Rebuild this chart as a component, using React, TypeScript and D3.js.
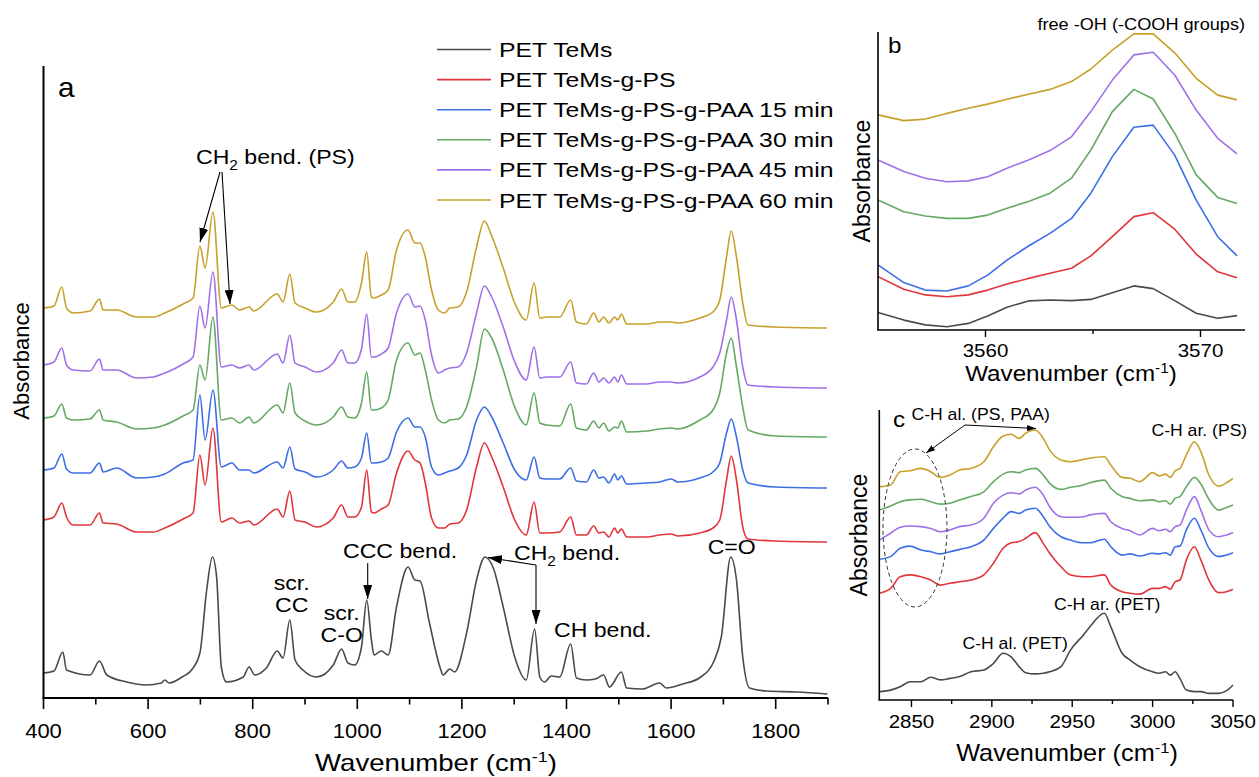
import React from 'react';
import * as d3 from 'd3';

const FONT = '"Liberation Sans", Arial, Helvetica, sans-serif';

// ---------- series ----------
const SERIES_NAMES = [
  'PET TeMs',
  'PET TeMs-g-PS',
  'PET TeMs-g-PS-g-PAA 15 min',
  'PET TeMs-g-PS-g-PAA 30 min',
  'PET TeMs-g-PS-g-PAA 45 min',
  'PET TeMs-g-PS-g-PAA 60 min',
];
const SERIES_COLORS = ['#4a4a4a', '#e0353a', '#3d6ee6', '#64a964', '#a070e8', '#c8a02a'];

// ---------- panel a (400-1900 cm-1), arbitrary absorbance units, stacked ----------
const WN_PET_A = [
  400, 420, 437, 444, 489, 507, 521, 559, 597, 625,
  632, 640, 665, 683, 699, 712, 723, 731, 740, 750,
  782, 793, 804, 826, 847, 858, 871, 881, 896, 922,
  954, 970, 982, 995, 1008, 1018, 1027, 1032, 1046, 1059,
  1075, 1097, 1110, 1120, 1138, 1158, 1164, 1177, 1186, 1209,
  1228, 1244, 1260, 1279, 1301, 1323, 1339, 1349, 1358, 1371,
  1387, 1408, 1419, 1438, 1455, 1471, 1482, 1505, 1515, 1545,
  1578, 1591, 1622, 1654, 1683, 1696, 1714, 1725, 1737, 1750,
  1782, 1840, 1899,
];
const PET_A = [
  25, 27, 46, 28, 23, 37, 23, 16, 13, 15,
  18, 15, 21, 28, 45, 108, 141, 121, 31, 16,
  21, 31, 23, 30, 47, 40, 78, 38, 28, 21,
  33, 49, 35, 33, 51, 98, 58, 43, 47, 43,
  91, 131, 118, 117, 75, 31, 23, 29, 26, 65,
  118, 141, 130, 91, 41, 18, 69, 21, 16, 22,
  21, 54, 20, 18, 19, 23, 11, 26, 10, 9,
  15, 10, 14, 20, 38, 61, 141, 118, 41, 10,
  7, 6, 4,
];

const WN_A = [
  400, 420, 435, 444, 457, 489, 507, 514, 540, 578,
  610, 632, 667, 686, 699, 709, 724, 740, 760, 775,
  793, 802, 847, 858, 871, 881, 900, 922, 954, 970,
  982, 995, 1008, 1018, 1027, 1032, 1046, 1059, 1075, 1097,
  1110, 1120, 1130, 1142, 1155, 1167, 1177, 1193, 1209, 1228,
  1243, 1257, 1279, 1301, 1323, 1338, 1349, 1362, 1387, 1408,
  1419, 1438, 1452, 1462, 1471, 1481, 1492, 1498, 1505, 1515,
  1553, 1578, 1600, 1613, 1655, 1680, 1693, 1706, 1715, 1725,
  1737, 1747, 1800, 1898,
];
const PS_A = [
  178, 181, 195, 181, 173, 173, 185, 175, 174, 166,
  166, 170, 179, 185, 243, 213, 270, 176, 180, 175,
  177, 173, 189, 181, 207, 178, 176, 171, 180, 193,
  181, 181, 191, 228, 186, 185, 189, 193, 225, 247,
  238, 235, 215, 180, 170, 170, 174, 175, 188, 231,
  255, 241, 211, 178, 163, 196, 165, 165, 166, 181,
  163, 163, 172, 165, 166, 161, 170, 165, 169, 161,
  161, 163, 164, 162, 165, 170, 178, 218, 242, 218,
  171, 159, 157, 156,
];
const PAA15_A = [
  228, 230, 244, 229, 225, 225, 235, 226, 230, 220,
  221, 224, 235, 238, 303, 258, 308, 231, 235, 228,
  228, 225, 236, 230, 251, 229, 226, 221, 228, 237,
  230, 231, 240, 265, 235, 235, 236, 240, 266, 280,
  271, 271, 261, 231, 223, 225, 227, 230, 243, 278,
  291, 281, 255, 228, 218, 241, 220, 219, 219, 230,
  217, 216, 228, 220, 221, 215, 224, 218, 222, 214,
  215, 216, 219, 216, 220, 226, 235, 265, 279, 261,
  228, 215, 211, 210,
];
const PAA30_A = [
  280, 282, 294, 280, 278, 279, 288, 278, 276, 269,
  270, 273, 282, 288, 333, 318, 381, 278, 280, 275,
  281, 275, 293, 285, 315, 285, 277, 273, 281, 291,
  281, 280, 295, 326, 288, 288, 290, 298, 338, 355,
  343, 345, 328, 298, 278, 275, 278, 279, 291, 331,
  369, 360, 328, 291, 273, 305, 275, 273, 272, 294,
  270, 268, 277, 270, 275, 267, 271, 270, 277, 266,
  267, 269, 270, 269, 278, 288, 305, 345, 360, 331,
  291, 268, 262, 261,
];
const PAA45_A = [
  333, 336, 350, 333, 328, 327, 339, 328, 328, 320,
  321, 325, 334, 341, 392, 370, 426, 331, 333, 330,
  333, 328, 344, 335, 363, 335, 331, 326, 335, 348,
  335, 335, 349, 384, 341, 341, 344, 350, 385, 404,
  391, 392, 378, 343, 325, 328, 330, 331, 345, 385,
  412, 401, 371, 336, 318, 351, 320, 321, 321, 336,
  315, 314, 325, 316, 320, 315, 321, 316, 323, 314,
  314, 316, 316, 315, 321, 331, 345, 378, 401, 378,
  331, 313, 311, 310,
];
const PAA60_A = [
  390, 392, 411, 390, 385, 387, 399, 388, 388, 381,
  381, 385, 394, 400, 452, 430, 486, 390, 393, 388,
  391, 387, 404, 396, 424, 395, 390, 386, 396, 409,
  396, 396, 415, 446, 401, 400, 403, 408, 448, 468,
  455, 455, 441, 408, 388, 385, 390, 391, 406, 451,
  477, 462, 430, 395, 378, 415, 380, 381, 381, 398,
  376, 374, 385, 376, 381, 375, 381, 378, 384, 374,
  374, 376, 376, 375, 380, 386, 398, 441, 467, 441,
  395, 373, 371, 370,
];
const TICKS_A = [400, 600, 800, 1000, 1200, 1400, 1600, 1800];
const MINOR_A = [500, 700, 900, 1100, 1300, 1500, 1700, 1900];

// ---------- panel b (free -OH region) ----------
const WN_B = [3555.0, 3556.2, 3557.2, 3558.2, 3559.2, 3560.1, 3561.0, 3562.0, 3563.0, 3564.0, 3564.9, 3565.9, 3566.9, 3567.8, 3568.8, 3569.8, 3570.8, 3571.7];
const PET_B = [0.058, 0.033, 0.017, 0.011, 0.022, 0.047, 0.076, 0.097, 0.100, 0.098, 0.102, 0.124, 0.147, 0.138, 0.098, 0.056, 0.039, 0.048];
const PS_B = [0.178, 0.136, 0.117, 0.111, 0.117, 0.133, 0.153, 0.172, 0.189, 0.206, 0.247, 0.311, 0.378, 0.391, 0.336, 0.253, 0.194, 0.174];
const PAA15_B = [0.217, 0.158, 0.133, 0.130, 0.147, 0.183, 0.233, 0.280, 0.322, 0.372, 0.456, 0.578, 0.676, 0.683, 0.583, 0.433, 0.311, 0.247];
const PAA30_B = [0.433, 0.394, 0.380, 0.372, 0.372, 0.383, 0.406, 0.428, 0.456, 0.506, 0.600, 0.728, 0.802, 0.770, 0.656, 0.517, 0.442, 0.422];
const PAA45_B = [0.567, 0.528, 0.506, 0.494, 0.497, 0.511, 0.539, 0.567, 0.598, 0.644, 0.728, 0.833, 0.917, 0.926, 0.850, 0.733, 0.639, 0.587];
const PAA60_B = [0.717, 0.698, 0.703, 0.722, 0.739, 0.753, 0.769, 0.786, 0.802, 0.828, 0.870, 0.933, 0.987, 0.987, 0.924, 0.839, 0.783, 0.767];
const TICKS_B = [3560, 3570];
const MINOR_B = [3565];

// ---------- panel c (C-H stretching region) ----------
const WN_C = [2830, 2837, 2843, 2849, 2856, 2862, 2868, 2874, 2880, 2887, 2895, 2901, 2907, 2912, 2917, 2921, 2927, 2932, 2936, 2943, 2949, 2957, 2961, 2970, 2974, 2981, 2986, 2992, 3000, 3004, 3008, 3011, 3014, 3017, 3021, 3026, 3030, 3035, 3041, 3046, 3050];
const PET_C = [2.8, 3.3, 4.4, 6.1, 6.1, 7.6, 6.7, 7.2, 7.8, 9.4, 10.0, 12.2, 15.6, 14.4, 11.1, 9.1, 8.7, 8.9, 9.4, 11.1, 16.7, 21.7, 24.4, 28.9, 24.4, 15.6, 13.3, 11.1, 9.4, 8.9, 9.4, 8.3, 9.4, 7.2, 3.3, 2.8, 2.8, 2.2, 2.2, 3.1, 5.0];
const PS_C = [35.6, 37.2, 41.1, 41.7, 41.1, 40.0, 38.3, 38.9, 39.4, 40.0, 41.7, 45.6, 50.6, 52.4, 52.8, 53.9, 55.8, 52.2, 48.9, 44.4, 41.7, 41.1, 41.1, 41.7, 38.3, 36.1, 35.6, 35.3, 37.2, 37.2, 37.8, 36.9, 39.4, 40.0, 46.7, 51.1, 46.7, 40.0, 35.8, 36.1, 36.9];
const PAA15_C = [46.9, 47.8, 50.6, 51.3, 50.0, 49.4, 48.7, 49.4, 50.2, 51.1, 53.3, 57.2, 60.6, 62.8, 62.2, 63.3, 63.9, 61.1, 57.8, 54.4, 53.3, 52.4, 52.4, 53.6, 51.1, 48.3, 48.7, 48.0, 48.9, 48.7, 49.1, 48.3, 51.1, 51.3, 56.7, 60.6, 56.7, 50.6, 47.8, 48.3, 49.1];
const PAA30_C = [63.3, 64.7, 66.1, 66.7, 66.9, 66.1, 65.3, 65.6, 66.7, 67.8, 69.4, 72.8, 75.3, 76.1, 75.8, 76.7, 77.2, 75.0, 72.2, 70.2, 70.9, 71.7, 72.4, 73.3, 70.6, 67.8, 67.2, 66.4, 66.7, 66.1, 66.4, 65.3, 67.2, 67.8, 71.1, 74.2, 72.0, 66.9, 63.3, 64.2, 65.0];
const PAA45_C = [53.3, 55.6, 57.6, 58.0, 57.8, 57.2, 56.1, 56.7, 57.8, 58.3, 60.6, 65.6, 68.3, 69.1, 68.7, 70.0, 70.9, 68.3, 64.4, 61.1, 60.9, 61.1, 61.7, 62.2, 59.4, 57.2, 56.4, 55.0, 57.2, 56.4, 56.9, 56.1, 57.8, 58.3, 63.3, 67.8, 63.3, 56.7, 54.4, 55.0, 55.8];
const PAA60_C = [71.1, 71.7, 76.1, 76.4, 77.2, 76.1, 74.2, 75.0, 76.7, 77.2, 79.4, 84.4, 88.0, 88.6, 87.2, 88.9, 90.0, 87.2, 83.3, 80.0, 79.4, 80.2, 80.6, 81.1, 78.3, 74.2, 73.9, 72.8, 75.8, 74.7, 75.3, 74.2, 76.4, 77.2, 81.7, 86.1, 82.8, 75.0, 71.3, 72.4, 73.9];
const TICKS_C = [2850, 2900, 2950, 3000, 3050];
const MINOR_C = [2875, 2925, 2975, 3025];

type TProps = {
  x: number; y: number; size: number; anchor?: 'start' | 'middle' | 'end';
  sx?: number; rotate?: boolean; children: React.ReactNode;
};
function T({ x, y, size, anchor = 'start', sx = 1.1, rotate = false, children }: TProps) {
  const tr = rotate ? `translate(${x},${y}) rotate(-90)` : `translate(${x},${y}) scale(${sx},1)`;
  return (
    <text transform={tr} fontSize={size} textAnchor={anchor} fontFamily={FONT} fill="#000">
      {children}
    </text>
  );
}

function makePath(xs: number[], ys: number[], sx: d3.ScaleLinear<number, number>, sy: d3.ScaleLinear<number, number>, curve: d3.CurveFactory) {
  return d3.line<number>().x((_, i) => sx(xs[i])).y((d) => sy(d)).curve(curve)(ys) || '';
}

export default function App() {
  // panel a scales
  const xA = d3.scaleLinear().domain([400, 1900]).range([43.5, 828]);
  const yA = d3.scaleLinear().domain([0, 633]).range([698, 65]);
  // panel b
  const xB = d3.scaleLinear().domain([3555, 3572.07]).range([878, 1245]);
  const yB = d3.scaleLinear().domain([0, 1]).range([330, 30]);
  // panel c
  const xC = d3.scaleLinear().domain([2830, 3050]).range([879.3, 1233]);
  const yC = d3.scaleLinear().domain([0, 100]).range([700, 400]);

  const seriesA: [number[], number[]][] = [
    [WN_PET_A, PET_A], [WN_A, PS_A], [WN_A, PAA15_A], [WN_A, PAA30_A], [WN_A, PAA45_A], [WN_A, PAA60_A],
  ];
  const seriesB = [PET_B, PS_B, PAA15_B, PAA30_B, PAA45_B, PAA60_B];
  const seriesC = [PET_C, PS_C, PAA15_C, PAA30_C, PAA45_C, PAA60_C];

  const legendY0 = 49.5;
  const legendStep = 30.1;

  return (
    <svg width={1259} height={777} style={{ position: 'absolute', left: 0, top: 0, background: '#fff' }}>
      <defs>
        <marker id="ahBig" markerUnits="userSpaceOnUse" markerWidth={14} markerHeight={9} refX={14} refY={4.5} orient="auto">
          <path d="M0,0 L14,4.5 L0,9 Z" fill="#000" />
        </marker>
        <marker id="ahSmall" markerUnits="userSpaceOnUse" markerWidth={9} markerHeight={6} refX={9} refY={3} orient="auto">
          <path d="M0,0 L9,3 L0,6 Z" fill="#000" />
        </marker>
      </defs>
      <rect x={0} y={0} width={1259} height={777} fill="#fff" />

      {/* ================= panel a ================= */}
      {seriesA.map(([xs, ys], i) => (
        <path key={`a${i}`} d={makePath(xs, ys, xA, yA, d3.curveMonotoneX)} fill="none" stroke={SERIES_COLORS[i]} strokeWidth={1.6} strokeLinejoin="round" />
      ))}
      <line x1={43.5} y1={66} x2={43.5} y2={698} stroke="#000" strokeWidth={2} />
      <line x1={42.5} y1={698} x2={828} y2={698} stroke="#000" strokeWidth={2} />
      {TICKS_A.map((t) => (
        <g key={`ta${t}`}>
          <line x1={xA(t)} x2={xA(t)} y1={698} y2={709} stroke="#000" strokeWidth={1.6} />
          <T x={xA(t)} y={738} size={20} anchor="middle">{t}</T>
        </g>
      ))}
      {MINOR_A.map((t) => (
        <line key={`ma${t}`} x1={xA(t)} x2={xA(t)} y1={698} y2={704.5} stroke="#000" strokeWidth={1.6} />
      ))}
      <T x={436} y={771} size={23} anchor="middle" sx={1.2}>
        <tspan>Wavenumber (cm</tspan>
        <tspan dy={-9} fontSize={15}>-1</tspan>
        <tspan dy={9}>)</tspan>
      </T>
      <T x={28.5} y={361} size={22} anchor="middle" rotate>Absorbance</T>
      <T x={58} y={97} size={27}>a</T>

      {/* legend */}
      {SERIES_NAMES.map((name, i) => (
        <g key={`lg${i}`}>
          <line x1={437} x2={491} y1={legendY0 + i * legendStep} y2={legendY0 + i * legendStep} stroke={SERIES_COLORS[i]} strokeWidth={1.6} />
          <T x={499} y={legendY0 + i * legendStep + 7.5} size={21} sx={1.18}>{name}</T>
        </g>
      ))}

      {/* panel a annotations */}
      <T x={196} y={164} size={21}>
        <tspan>CH</tspan>
        <tspan dy={6} fontSize={14}>2</tspan>
        <tspan dy={-6}> bend. (PS)</tspan>
      </T>
      <line x1={220} y1={172} x2={200} y2={242} stroke="#000" strokeWidth={1.1} markerEnd="url(#ahBig)" />
      <line x1={222} y1={172} x2={230} y2={304} stroke="#000" strokeWidth={1.1} markerEnd="url(#ahBig)" />

      <T x={291.7} y={590} size={21} anchor="middle">scr.</T>
      <T x={291.7} y={612} size={21} anchor="middle">CC</T>
      <T x={341.7} y={620} size={21} anchor="middle">scr.</T>
      <T x={341.7} y={642} size={21} anchor="middle">C-O</T>

      <T x={343} y={558} size={21}>CCC bend.</T>
      <line x1={367.7} y1={563} x2={367.7} y2={599} stroke="#000" strokeWidth={1.1} markerEnd="url(#ahBig)" />

      <T x={514} y={560} size={21}>
        <tspan>CH</tspan>
        <tspan dy={6} fontSize={14}>2</tspan>
        <tspan dy={-6}> bend.</tspan>
      </T>
      <line x1={536} y1={565} x2={536} y2={624} stroke="#000" strokeWidth={1.1} markerEnd="url(#ahBig)" />
      <line x1={536} y1={565} x2={488} y2={557.5} stroke="#000" strokeWidth={1.1} markerEnd="url(#ahBig)" />

      <T x={554} y={637} size={21}>CH bend.</T>
      <T x={731.7} y={554} size={21} anchor="middle">C=O</T>

      {/* ================= panel b ================= */}
      {seriesB.map((ys, i) => (
        <path key={`b${i}`} d={makePath(WN_B, ys, xB, yB, d3.curveLinear)} fill="none" stroke={SERIES_COLORS[i]} strokeWidth={1.6} strokeLinejoin="round" />
      ))}
      <line x1={878} y1={32} x2={878} y2={330} stroke="#000" strokeWidth={1.6} />
      <line x1={877.2} y1={330} x2={1245} y2={330} stroke="#000" strokeWidth={1.6} />
      {TICKS_B.map((t) => (
        <g key={`tb${t}`}>
          <line x1={xB(t)} x2={xB(t)} y1={330} y2={337} stroke="#000" strokeWidth={1.4} />
          <T x={xB(t)} y={357} size={19} anchor="middle" sx={1.08}>{t}</T>
        </g>
      ))}
      {MINOR_B.map((t) => (
        <line key={`mb${t}`} x1={xB(t)} x2={xB(t)} y1={330} y2={334} stroke="#000" strokeWidth={1.4} />
      ))}
      <T x={1071} y={381} size={22} anchor="middle">
        <tspan>Wavenumber (cm</tspan>
        <tspan dy={-8} fontSize={14}>-1</tspan>
        <tspan dy={8}>)</tspan>
      </T>
      <T x={870} y={181} size={23} anchor="middle" rotate>Absorbance</T>
      <T x={888} y={53} size={22}>b</T>
      <T x={1245} y={29.5} size={16.5} anchor="end">free -OH (-COOH groups)</T>

      {/* ================= panel c ================= */}
      {seriesC.map((ys, i) => (
        <path key={`c${i}`} d={makePath(WN_C, ys, xC, yC, d3.curveMonotoneX)} fill="none" stroke={SERIES_COLORS[i]} strokeWidth={1.6} strokeLinejoin="round" />
      ))}
      <line x1={879.3} y1={410} x2={879.3} y2={700} stroke="#000" strokeWidth={1.6} />
      <line x1={878.5} y1={700} x2={1233} y2={700} stroke="#000" strokeWidth={1.6} />
      {TICKS_C.map((t) => (
        <g key={`tc${t}`}>
          <line x1={xC(t)} x2={xC(t)} y1={700} y2={707} stroke="#000" strokeWidth={1.4} />
          <T x={xC(t)} y={728} size={19} anchor="middle" sx={1.08}>{t}</T>
        </g>
      ))}
      {MINOR_C.map((t) => (
        <line key={`mc${t}`} x1={xC(t)} x2={xC(t)} y1={700} y2={704} stroke="#000" strokeWidth={1.4} />
      ))}
      <T x={1067} y={761} size={23} anchor="middle">
        <tspan>Wavenumber (cm</tspan>
        <tspan dy={-8} fontSize={15}>-1</tspan>
        <tspan dy={8}>)</tspan>
      </T>
      <T x={867} y={535} size={23} anchor="middle" rotate>Absorbance</T>
      <T x={893} y={427} size={22}>c</T>

      <T x={911.5} y={420} size={16}>C-H al. (PS, PAA)</T>
      <line x1={965} y1={425} x2={1036} y2={428.5} stroke="#000" strokeWidth={1} markerEnd="url(#ahSmall)" />
      <line x1={965} y1={425} x2={926} y2={453} stroke="#000" strokeWidth={1} markerEnd="url(#ahSmall)" />
      <ellipse cx={915} cy={528} rx={32} ry={79} fill="none" stroke="#333" strokeWidth={1} strokeDasharray="4 3" />
      <T x={1151.5} y={436} size={16}>C-H ar. (PS)</T>
      <T x={1054} y={610} size={16}>C-H ar. (PET)</T>
      <T x={962.5} y={649} size={16}>C-H al. (PET)</T>
    </svg>
  );
}
